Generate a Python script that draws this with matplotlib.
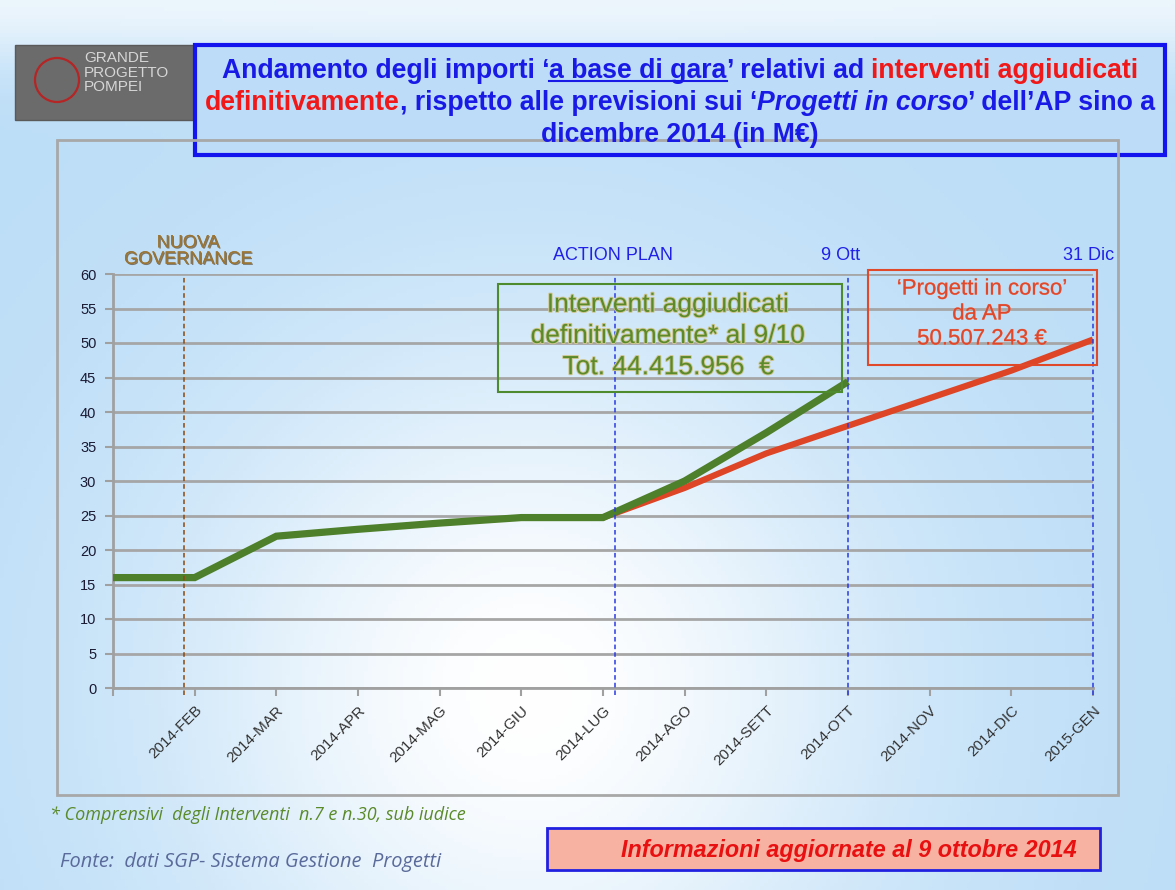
import numpy as np
import matplotlib
matplotlib.use('Agg')
import matplotlib.pyplot as plt
from matplotlib.patches import Rectangle, Ellipse
from matplotlib.lines import Line2D
import matplotlib.patheffects as pe
from matplotlib import font_manager

# ---------------- data ----------------
x_labels = ["", "2014-FEB", "2014-MAR", "2014-APR", "2014-MAG", "2014-GIU", "2014-LUG",
            "2014-AGO", "2014-SETT", "2014-OTT", "2014-NOV", "2014-DIC", "2015-GEN"]
green_values = [16, 16, 22, 23, 23.9, 24.7, 24.7, 30, 37, 44.4]           # interventi aggiudicati
red_values = [None, None, None, None, None, None, 24.7, 29, 34, 38, 42, 46, 50.5]  # progetti in corso
y_ticks = [0, 5, 10, 15, 20, 25, 30, 35, 40, 45, 50, 55, 60]
event_pos = [0.87, 6.15, 9.0, 12.0]
event_labels = ["NUOVA\nGOVERNANCE", "ACTION PLAN", "9 Ott", "31 Dic"]

names = {f.name for f in font_manager.fontManager.ttflist}
NARROW = 'Liberation Sans Narrow' if 'Liberation Sans Narrow' in names else 'Liberation Sans'
SANS = 'Liberation Sans'
WIDE = 'Open Sans' if 'Open Sans' in names else 'DejaVu Sans'

W, H = 1175, 890
fig = plt.figure(figsize=(W / 100, H / 100), dpi=100)


def fx(px):
    return px / W


def fy(py):
    return 1 - py / H


# ---------------- background gradient ----------------
bg = fig.add_axes([0, 0, 1, 1], zorder=-10)
gx, gy = np.meshgrid(np.linspace(0, 1, 300), np.linspace(0, 1, 240))  # gy: 0 top
wmain = np.exp(-((gx - 0.45) / 0.30) ** 2 - ((gy - 0.78) / 0.40) ** 2)
wtop = np.exp(-(gy / 0.07) ** 2) * 0.7
wgt = np.clip(wmain + wtop, 0, 1)
base = np.array([0.74, 0.87, 0.97])
white = np.array([1.0, 1.0, 1.0])
img = base[None, None, :] * (1 - wgt[..., None]) + white[None, None, :] * wgt[..., None]
bg.imshow(img, extent=[0, 1, 0, 1], aspect='auto', origin='upper')
bg.axis('off')

# ---------------- main axes ----------------
ax = fig.add_axes([fx(113), fy(688), fx(1093) - fx(113), fy(274) - fy(688)])
ax.set_facecolor('none')
xpos = np.arange(len(x_labels))
ax.set_xlim(0, len(x_labels) - 1)
ax.set_ylim(0, 60)

gx_pos = xpos[:len(green_values)]
red_x = [x for x, v in zip(xpos, red_values) if v is not None]
red_y = [v for v in red_values if v is not None]
ax.plot(red_x, red_y, color='#dd4526', lw=4.5, solid_capstyle='butt', zorder=4)
ax.plot(gx_pos, green_values, color='#4e7f2a', lw=5.2, solid_capstyle='butt',
        solid_joinstyle='miter', zorder=5)

ax.set_yticks(y_ticks)
ax.set_yticklabels([str(v) for v in y_ticks], fontsize=10.5, color='#1a1a33', family=SANS)
ax.set_xticks(xpos)
ax.set_xticklabels(x_labels, rotation=45, ha='right', va='top', rotation_mode='anchor',
                   fontsize=11, color='#333333', family=SANS)
ax.tick_params(axis='both', direction='out', length=6, width=1.5, color='#a0a0a0')
ax.tick_params(axis='x', pad=5)
ax.tick_params(axis='y', pad=6)
ax.yaxis.grid(True, color='#a6a6a6', lw=2)
ax.set_axisbelow(True)
for s in ['top', 'right']:
    ax.spines[s].set_visible(False)
for s in ['left', 'bottom']:
    ax.spines[s].set_color('#a0a0a0')
    ax.spines[s].set_linewidth(2)

# event lines
ev_colors = ['#8a4a10', '#2a3ae0', '#2a3ae0', '#2a3ae0']
for p, c in zip(event_pos, ev_colors):
    ax.plot([p, p], [-1, 59.5], color=c, lw=1.1, ls=(0, (3, 2)), clip_on=False, zorder=6)

# event labels
ax.text(event_pos[0] + 0.05, 60.9, event_labels[0], ha='center', va='bottom', fontsize=13,
        color='#9a7434', family=SANS, linespacing=0.95,
        path_effects=[pe.withSimplePatchShadow(offset=(0.8, -0.8), shadow_rgbFace='#4a3010', alpha=0.6),
                      pe.Normal()])
ax.text(event_pos[1] - 0.03, 61.5, event_labels[1], ha='center', va='bottom', fontsize=13,
        color='#2020e8', family=SANS)
ax.text(8.91, 61.5, event_labels[2], ha='center', va='bottom', fontsize=13,
        color='#2020e8', family=SANS)
ax.text(11.94, 61.5, event_labels[3], ha='center', va='bottom', fontsize=13,
        color='#2020e8', family=SANS)

# ---------------- outer frame ----------------
fig.add_artist(Rectangle((fx(57), fy(795)), fx(1118) - fx(57), (795 - 140) / H,
                         transform=fig.transFigure, fill=False, ec='#a8a8a8', lw=2, zorder=5))

# ---------------- logo ----------------
fig.add_artist(Rectangle((fx(15), fy(120)), fx(195) - fx(15), (120 - 45) / H,
                         transform=fig.transFigure, fc='#6b6b6b', ec='#5a5a5a', lw=1, zorder=3))
fig.add_artist(Ellipse((fx(57), fy(80)), 44 / W, 44 / H, transform=fig.transFigure, fill=False,
                       ec='#b52525', lw=1.6, zorder=4))
fig.text(fx(84), fy(51), "GRANDE\nPROGETTO\nPOMPEI", ha='left', va='top', fontsize=11,
         color='#d6d6d6', family=SANS, linespacing=1.05, zorder=6)

# ---------------- title box ----------------
fig.add_artist(Rectangle((fx(195), fy(155)), fx(1165) - fx(195), (155 - 45) / H,
                         transform=fig.transFigure, fc='#bcdcf8', ec='#1414ee', lw=3, zorder=4))

renderer = fig.canvas.get_renderer()


def measure(txt, fs, family, style='normal', weight='normal'):
    t = fig.text(0, 0, txt, fontsize=fs, family=family, style=style, weight=weight)
    w = t.get_window_extent(renderer).width
    t.remove()
    return w


def rich_line(segments, cx_px, base_py, fs, family, weight='bold'):
    sp = measure("a a", fs, family, weight=weight) - measure("aa", fs, family, weight=weight)
    items = []
    total = 0.0
    for txt, props in segments:
        lead = len(txt) - len(txt.lstrip(' '))
        trail = len(txt) - len(txt.rstrip(' '))
        core = txt.strip(' ')
        style = props.get('style', 'normal')
        w = measure(core, fs, family, style=style, weight=weight)
        total += lead * sp
        items.append((total, core, props, w))
        total += w + trail * sp
    x0 = cx_px - total / 2
    for off, core, props, w in items:
        fig.text(fx(x0 + off), fy(base_py), core, fontsize=fs, family=family,
                 weight=weight, style=props.get('style', 'normal'),
                 color=props.get('color', '#1a1aee'), ha='left', va='baseline', zorder=7)
        if props.get('underline'):
            fig.add_artist(Line2D([fx(x0 + off), fx(x0 + off + w)],
                                  [fy(base_py + 3), fy(base_py + 3)],
                                  transform=fig.transFigure, color=props.get('color', '#1a1aee'),
                                  lw=1.5, zorder=7))
    return total


BLUE = {'color': '#1a1ae6'}
RED = {'color': '#f01818'}
title_lines = [
    [("Andamento degli importi \u2018", BLUE), ("a base di gara", dict(BLUE, underline=True)),
     ("\u2019 relativi ad ", BLUE), ("interventi aggiudicati", RED)],
    [("definitivamente", RED), (", rispetto alle previsioni sui \u2018", BLUE),
     ("Progetti in corso", dict(BLUE, style='italic')), ("\u2019 dell\u2019AP sino a", BLUE)],
    [("dicembre 2014 (in M\u20ac)", BLUE)],
]
fs0 = 18
w1 = sum(measure(t, fs0, NARROW, weight='bold') for t, _ in title_lines[0])
fs_title = fs0 * 920 / w1
for line, base in zip(title_lines, [78, 110, 142]):
    rich_line(line, 680, base, fs_title, NARROW)

# ---------------- annotation boxes ----------------
fig.add_artist(Rectangle((fx(498), fy(392)), fx(842) - fx(498), (392 - 284) / H,
                         transform=fig.transFigure, fill=False, ec='#4e8a2e', lw=1.5, zorder=8))
fig.text(fx(668), fy(336), "Interventi aggiudicati\ndefinitivamente* al 9/10\nTot. 44.415.956  \u20ac",
         ha='center', va='center', fontsize=19, family=SANS, color='#5a8a2a',
         linespacing=1.38, zorder=9,
         path_effects=[pe.withStroke(linewidth=1.4, foreground='#cfc690')])

fig.add_artist(Rectangle((fx(868), fy(365)), fx(1097) - fx(868), (365 - 270) / H,
                         transform=fig.transFigure, fill=False, ec='#e04a2a', lw=1.5, zorder=8))
fig.text(fx(982), fy(314), "\u2018Progetti in corso\u2019\nda AP\n50.507.243 \u20ac",
         ha='center', va='center', fontsize=16, family=SANS, color='#e0482c', linespacing=1.25,
         zorder=9, path_effects=[pe.withStroke(linewidth=0.4, foreground='#e6a090')])

# ---------------- footer ----------------
fig.text(fx(50), fy(815), "* Comprensivi  degli Interventi  n.7 e n.30, sub iudice", ha='left',
         va='center', fontsize=13, style='italic', family=WIDE, color='#5a8a2a')
fig.text(fx(60), fy(862), "Fonte:  dati SGP- Sistema Gestione  Progetti", ha='left',
         va='center', fontsize=14.4, style='italic', family=WIDE, color='#5a6a9a')
fig.add_artist(Rectangle((fx(547), fy(870)), fx(1100) - fx(547), (870 - 828) / H,
                         transform=fig.transFigure, fc='#f8b2a2', ec='#2020e0', lw=2, zorder=4))
fig.text(fx(849), fy(850), "Informazioni aggiornate al 9 ottobre 2014", ha='center', va='center',
         fontsize=16.8, style='italic', weight='bold', family=NARROW, color='#e81010', zorder=6)

fig.savefig('out.png', dpi=100)
